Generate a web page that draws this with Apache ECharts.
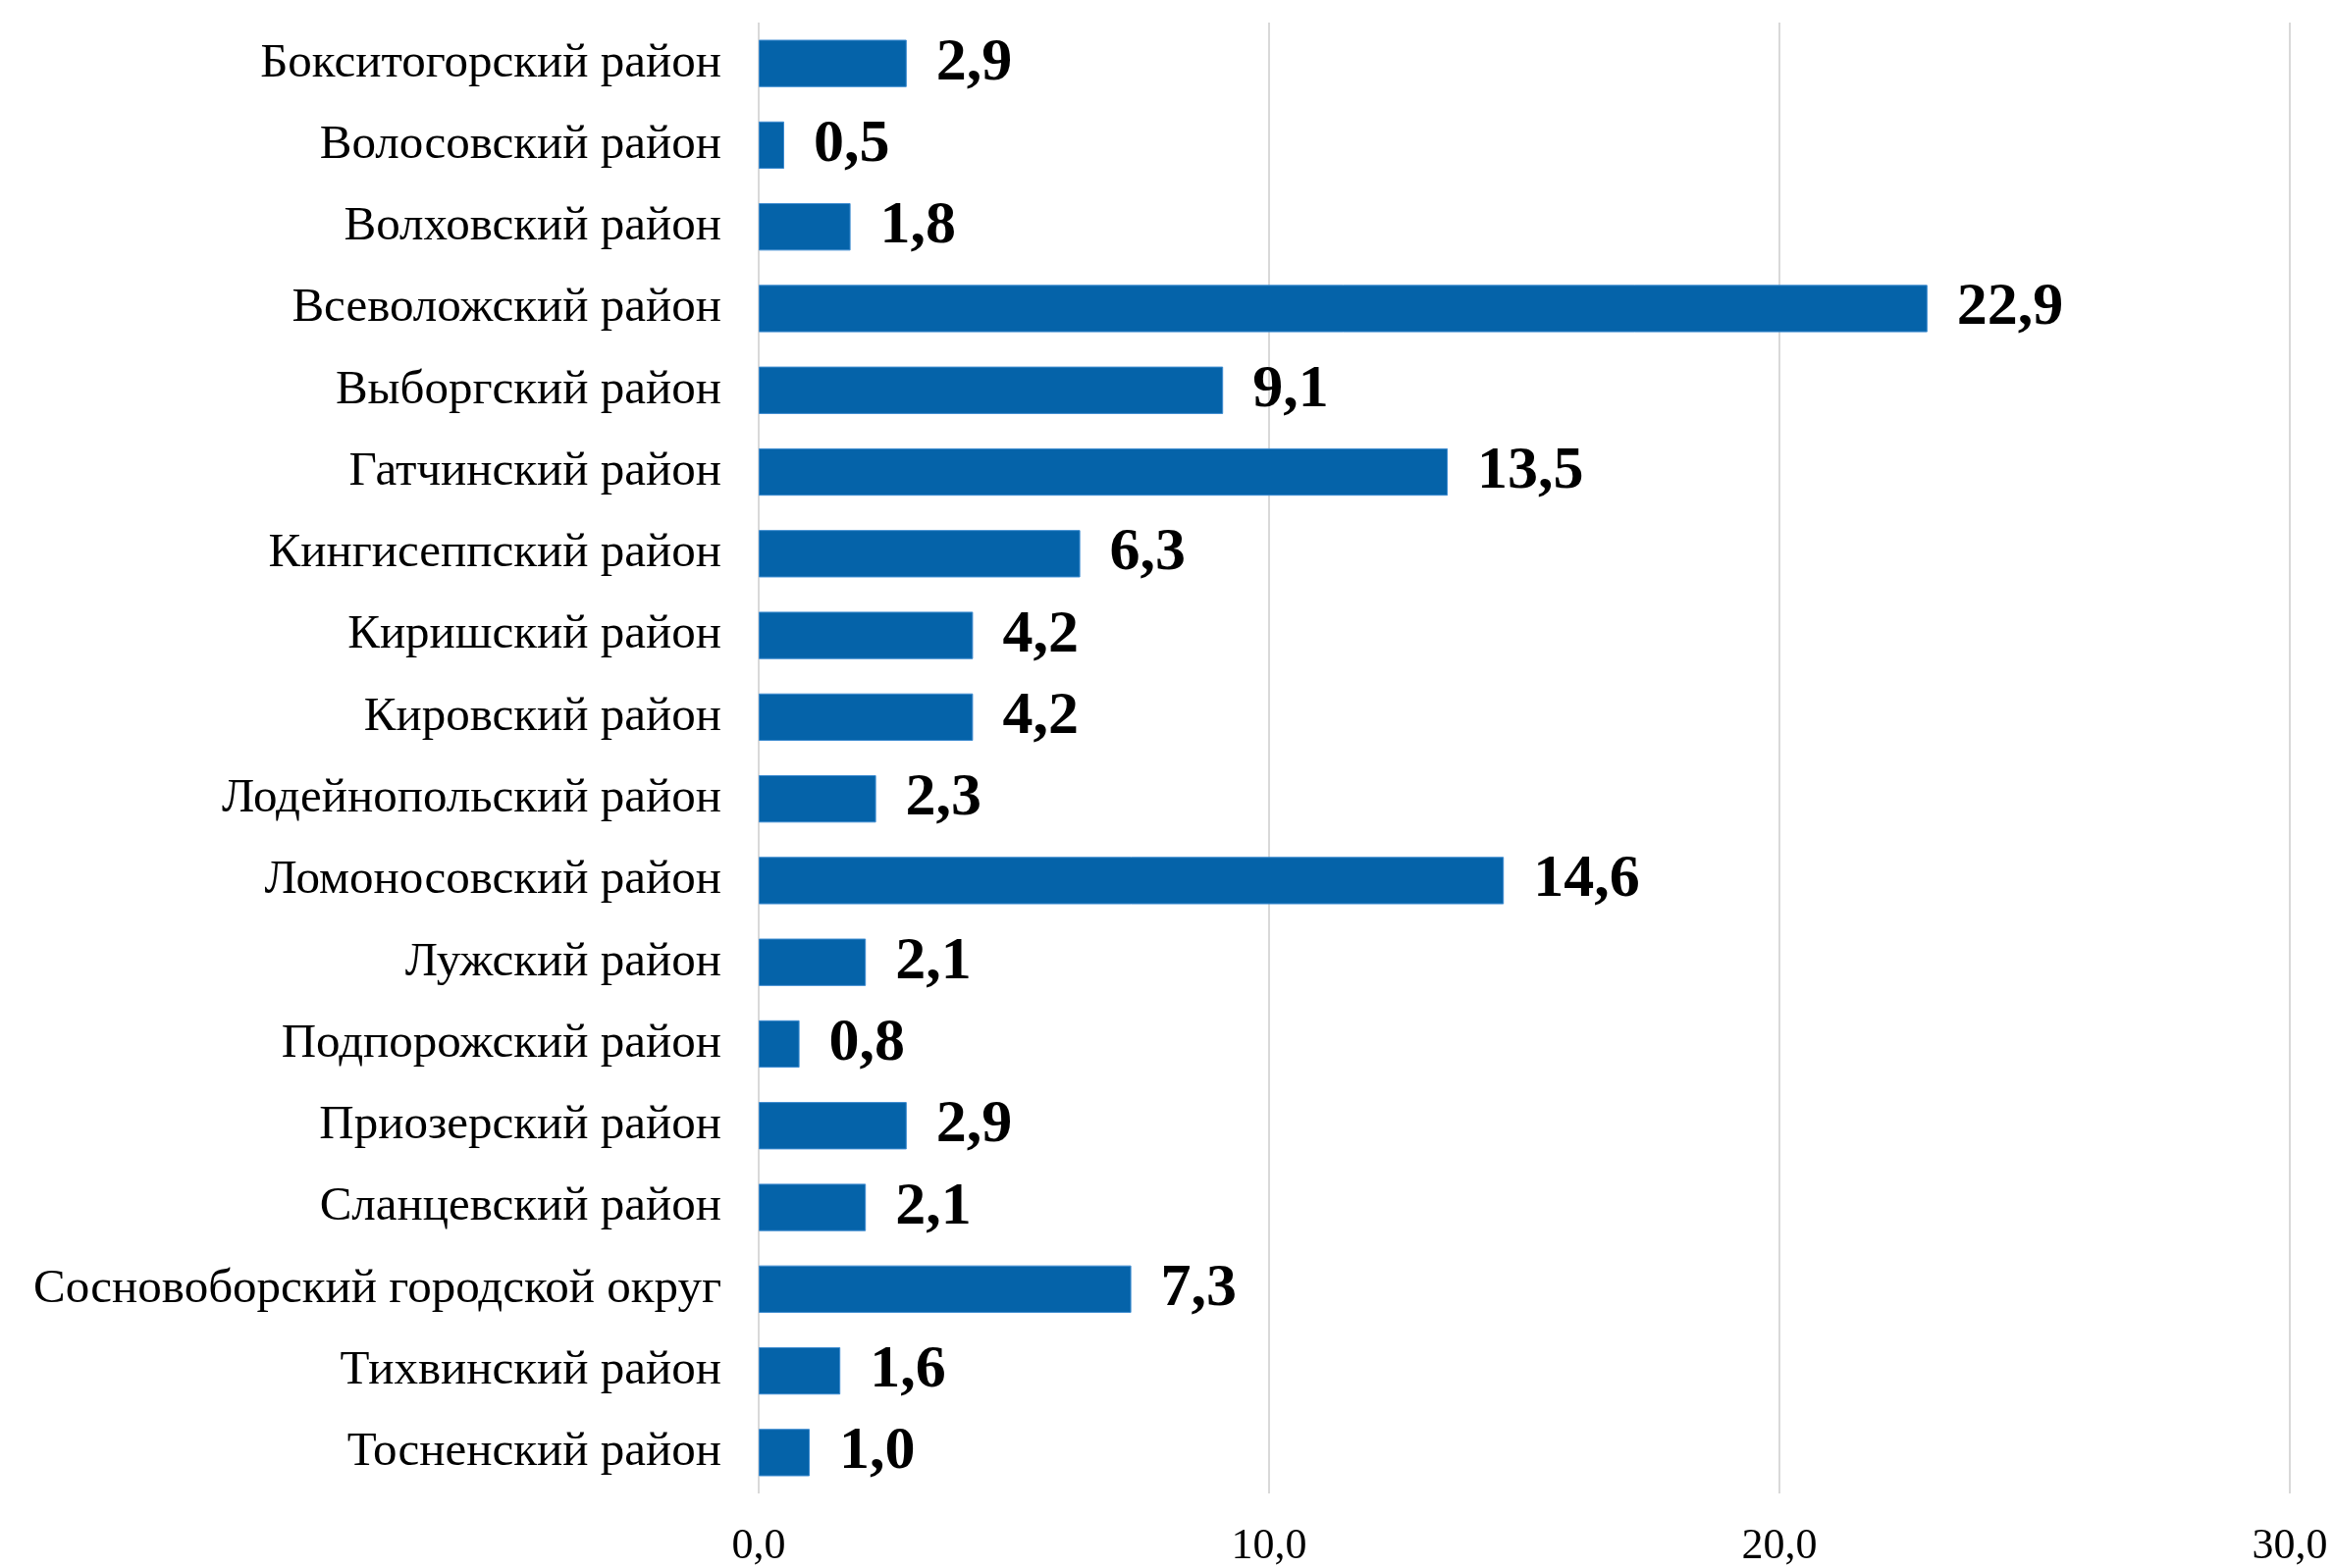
<!DOCTYPE html>
<html>
<head>
<meta charset="utf-8">
<script src="https://cdn.jsdelivr.net/npm/echarts@6/dist/echarts.min.js"></script>
<style>html,body{margin:0;padding:0;background:#fff;}#c{width:2377px;height:1598px;}</style>
</head>
<body>
<div id="c"></div>
<script>
const categories = [
  "Бокситогорский район",
  "Волосовский район",
  "Волховский район",
  "Всеволожский район",
  "Выборгский район",
  "Гатчинский район",
  "Кингисеппский район",
  "Киришский район",
  "Кировский район",
  "Лодейнопольский район",
  "Ломоносовский район",
  "Лужский район",
  "Подпорожский район",
  "Приозерский район",
  "Сланцевский район",
  "Сосновоборский городской округ",
  "Тихвинский район",
  "Тосненский район"
];
const values = [2.9, 0.5, 1.8, 22.9, 9.1, 13.5, 6.3, 4.2, 4.2, 2.3, 14.6, 2.1, 0.8, 2.9, 2.1, 7.3, 1.6, 1.0];
const xTicks = [0, 10, 20, 30];

const fmt = v => Number(v).toFixed(1).replace('.', ',');
const chart = echarts.init(document.getElementById('c'));
chart.setOption({
  backgroundColor: '#ffffff',
  animation: false,
  grid: { left: 773, right: 44, top: 23, bottom: 73, containLabel: false },
  xAxis: {
    type: 'value',
    min: xTicks[0],
    max: xTicks[xTicks.length - 1],
    interval: 10,
    axisLine: { show: false },
    axisTick: { show: false },
    splitLine: { show: true, lineStyle: { color: '#d9d9d9', width: 2 } },
    axisLabel: {
      formatter: fmt,
      fontFamily: 'Liberation Serif',
      fontSize: 44,
      color: '#000',
      margin: 32
    }
  },
  yAxis: {
    type: 'category',
    data: categories,
    inverse: true,
    axisLine: { show: false },
    axisTick: { show: false },
    axisLabel: {
      fontFamily: 'Liberation Serif',
      fontSize: 49,
      color: '#000',
      margin: 38
    }
  },
  series: [{
    type: 'bar',
    data: values,
    barCategoryGap: '42%',
    itemStyle: { color: '#0563a9', borderColor: '#3d8bd0', borderWidth: 1 },
    label: {
      show: true,
      position: 'right',
      distance: 30,
      formatter: p => fmt(p.value),
      fontFamily: 'Liberation Serif',
      fontWeight: 'bold',
      fontSize: 62,
      color: '#000'
    }
  }]
});
</script>
</body>
</html>
